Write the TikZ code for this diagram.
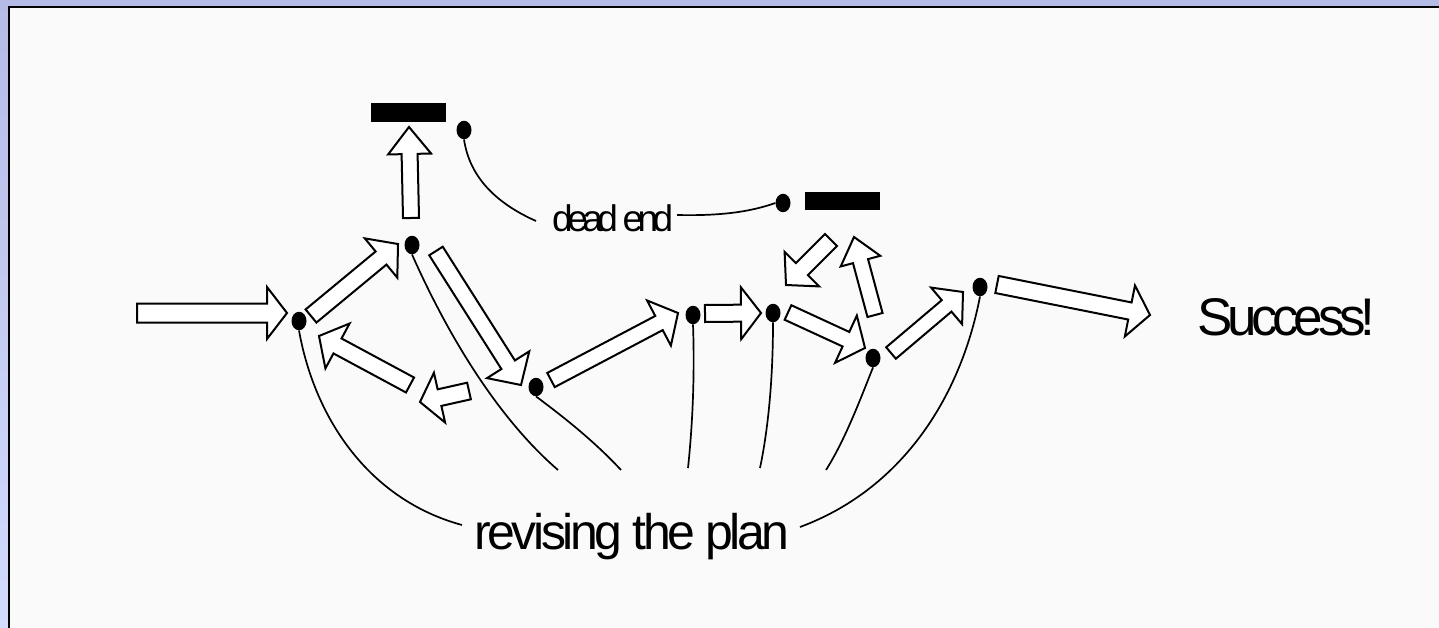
\documentclass[tikz,border=0pt]{standalone}
\usepackage{fontspec}
\setmainfont{Liberation Sans}
\usetikzlibrary{calc,shapes.geometric}
\definecolor{lavtop}{HTML}{B4BBE6}
\definecolor{lavbot}{HTML}{D2DCFE}
\definecolor{paper}{HTML}{FAFAFA}
\tikzset{
  blk/.style={draw=black, line width=2pt, fill=white, line join=miter},
  dot/.style={ellipse, fill=black, minimum width=15pt, minimum height=18.5pt, inner sep=0pt},
  lnk/.style={draw=black, line width=1.7pt},
  bar/.style={fill=black},
}
\newcommand{\blockarrow}[5]{%
  \coordinate (ba-c) at ($#2!#5!#1$);
  \draw[blk] ($#1!#3!90:#2$) -- ($(ba-c)!#3!90:#2$) -- ($(ba-c)!#4!90:#2$) -- #2
    -- ($(ba-c)!#4!-90:#2$) -- ($(ba-c)!#3!-90:#2$) -- ($#1!#3!-90:#2$) -- cycle;}
\begin{document}
\begin{tikzpicture}[x=1pt,y=-1pt]
\useasboundingbox (0,0) rectangle (1439,628);
\fill[top color=lavtop, bottom color=lavbot] (0,0) rectangle (1439,628);
\fill[paper] (8,6) rectangle (1439,628);
\draw[line width=2pt] (9,628) -- (9,7) -- (1439,7);

% dead-end bars
\fill[bar] (371,103) rectangle (446,122);
\fill[bar] (805,192) rectangle (880,210);

% dots
\node[dot] (n1) at (299,321) {};
\node[dot] (n2) at (412,245) {};
\node[dot] (d1) at (464,130) {};
\node[dot] (d2) at (783,203) {};
\node[dot] (nE) at (536,387) {};
\node[dot] (nA) at (693,315) {};
\node[dot] (nB) at (773,313) {};
\node[dot] (nC) at (873,358) {};
\node[dot] (nD) at (980,287) {};

% block arrows
\blockarrow{(137,313)}{(287,313)}{9.5pt}{26pt}{20pt}
\blockarrow{(311,316)}{(398,244)}{8.5pt}{25.5pt}{22pt}
\blockarrow{(410,385)}{(319,336)}{8.5pt}{25.5pt}{21pt}
\blockarrow{(469,391)}{(420,402)}{8.5pt}{25.5pt}{20pt}
\blockarrow{(411,218)}{(409,127)}{8pt}{21.5pt}{27pt}
\blockarrow{(436,251)}{(521,385)}{8pt}{25pt}{24pt}
\blockarrow{(551,380)}{(678,313)}{8pt}{25.5pt}{21.5pt}
\blockarrow{(705,313.5)}{(761,313)}{8.5pt}{26pt}{20pt}
\blockarrow{(788,312.5)}{(865,348)}{8pt}{26pt}{21pt}
\blockarrow{(831,240)}{(786,285)}{8.5pt}{24.5pt}{22.5pt}
\blockarrow{(875,315)}{(854,237)}{7.8pt}{20.5pt}{25pt}
\blockarrow{(891,353)}{(963,292)}{7.5pt}{24pt}{21.5pt}
\blockarrow{(997,284.5)}{(1150,315)}{8.7pt}{26pt}{20.5pt}

% texts
\node[anchor=base west, inner sep=0pt, font=\fontsize{37}{40}\selectfont\addfontfeature{LetterSpace=-15}] (de) at (552,232) {dead end};
\node[anchor=base west, inner sep=0pt, font=\fontsize{53}{58}\selectfont\addfontfeature{LetterSpace=-10}] (succ) at (1197,335) {Success!};
\node[anchor=base, inner sep=0pt, font=\fontsize{50}{55}\selectfont\addfontfeature{LetterSpace=-7}] (rev) at (632,549) {revising the plan};

% dead end links
\coordinate (deL) at (536,221);
\coordinate (deR) at (677,215);
\draw[lnk] (d1.south) .. controls (470,180) and (500,205) .. (deL);
\draw[lnk] (deR) .. controls (720,216) and (750,212) .. (d2.west);

% revising links
\coordinate (e1) at (462,525);
\coordinate (e2) at (558,470);
\coordinate (e3) at (621,470);
\coordinate (e4) at (688,468);
\coordinate (e5) at (760,468);
\coordinate (e6) at (826,470);
\coordinate (e7) at (800,527);
\draw[lnk] (n1.south) .. controls (315,420) and (370,500) .. (e1);
\draw[lnk] (n2.south) .. controls (450,340) and (500,420) .. (e2);
\draw[lnk] (nE.south) .. controls (565,418) and (595,442) .. (e3);
\draw[lnk] (nA.south) .. controls (695,380) and (692,430) .. (e4);
\draw[lnk] (nB.south) .. controls (773,380) and (768,430) .. (e5);
\draw[lnk] (nC.south) .. controls (860,400) and (845,440) .. (e6);
\draw[lnk] (nD.south) .. controls (960,400) and (900,490) .. (e7);
\end{tikzpicture}
\end{document}
